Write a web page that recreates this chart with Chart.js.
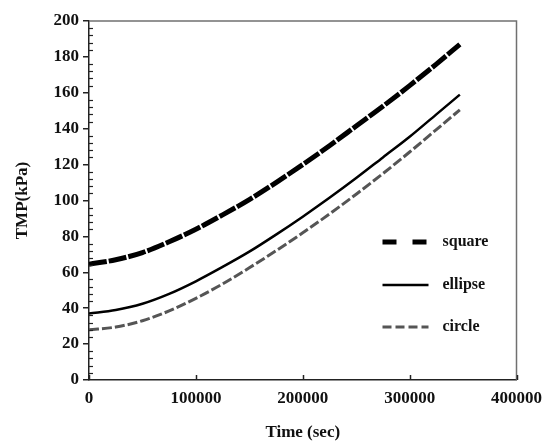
<!DOCTYPE html>
<html>
<head>
<meta charset="utf-8">
<script src="https://cdn.jsdelivr.net/npm/chart.js@4.4.1/dist/chart.umd.min.js"></script>
<style>
  html, body { margin: 0; padding: 0; background: #fff; }
  #wrap { width: 542px; height: 444px; }
</style>
</head>
<body>
<div id="wrap"><canvas id="tmpChart" width="542" height="444"></canvas></div>
<script>
// Time (sec) sampled along the curves
const timeSec = [0, 25000, 50000, 75000, 100000, 125000, 150000, 175000, 200000, 225000, 250000, 275000, 300000, 325000, 347000];
// TMP (kPa) for each module shape
const squareTmp  = [64.5, 67, 71, 77, 84, 92, 100.5, 110, 120, 130.5, 141.5, 152.5, 164, 176, 187];
const ellipseTmp = [37, 39, 42.5, 48, 55, 63, 71.5, 81, 91, 101.5, 112.5, 124, 135.5, 148, 159];
const circleTmp  = [28, 29.5, 33, 38.5, 45.5, 53.5, 62.5, 72, 82, 92.5, 103.5, 115, 127, 139.5, 150.5];
const seriesNames = ["square", "ellipse", "circle"];
// axis ticks
const xTicks = [0, 100000, 200000, 300000, 400000];
const yTicks = [0, 20, 40, 60, 80, 100, 120, 140, 160, 180, 200];

const FONT = "'Liberation Serif', 'Times New Roman', serif";

function toPoints(values) {
    return timeSec.map((t, i) => ({ x: t, y: values[i] }));
}

// ✅ frame, inside ticks and in-plot legend
const framePlugin = {
    id: "frame",
    afterDraw(chart) {
        const { ctx, chartArea: a, scales: { x, y } } = chart;
        ctx.save();

        // top + right border (grey)
        ctx.strokeStyle = "#707070";
        ctx.lineWidth = 1.5;
        ctx.beginPath();
        ctx.moveTo(a.left, a.top);
        ctx.lineTo(a.right, a.top);
        ctx.lineTo(a.right, a.bottom);
        ctx.stroke();

        // x major ticks pointing up into the plot
        ctx.strokeStyle = "#222";
        ctx.lineWidth = 1.5;
        xTicks.forEach(v => {
            const px = Math.round(x.getPixelForValue(v)) + 0.5;
            ctx.beginPath();
            ctx.moveTo(px, a.bottom);
            ctx.lineTo(px, a.bottom - 5);
            ctx.stroke();
        });

        // y minor ticks on the inside, every 4 kPa
        ctx.lineWidth = 1.2;
        for (let v = 4; v < 200; v += 4) {
            if (v % 20 === 0) continue;
            const py = Math.round(y.getPixelForValue(v)) + 0.5;
            ctx.beginPath();
            ctx.moveTo(a.left, py);
            ctx.lineTo(a.left + 4, py);
            ctx.stroke();
        }

        // legend inside the plot area
        const lx0 = a.right - 134, lx1 = a.right - 88, tx = a.right - 74;
        const rowY = [a.top + 221, a.top + 264, a.top + 306];
        chart.data.datasets.forEach((ds, i) => {
            const yy = rowY[i];
            ctx.strokeStyle = ds.borderColor;
            ctx.lineWidth = ds.borderWidth;
            ctx.setLineDash(ds.legendDash || []);
            ctx.lineCap = "butt";
            ctx.beginPath();
            ctx.moveTo(lx0, yy);
            ctx.lineTo(lx1, yy);
            ctx.stroke();
            ctx.setLineDash([]);
            ctx.fillStyle = "#111";
            ctx.font = "bold 16px " + FONT;
            ctx.textBaseline = "middle";
            ctx.textAlign = "left";
            ctx.fillText(ds.label, tx, yy);
        });
        ctx.restore();
    }
};

const ctx = document.getElementById("tmpChart").getContext("2d");

new Chart(ctx, {
    type: "line",
    data: {
        datasets: [
            {
                label: seriesNames[0],
                data: toPoints(squareTmp),
                borderColor: "#000",
                borderWidth: 5,
                borderDash: [18, 2],
                legendDash: [14, 16],
                pointRadius: 0,
                cubicInterpolationMode: "monotone"
            },
            {
                label: seriesNames[1],
                data: toPoints(ellipseTmp),
                borderColor: "#000",
                borderWidth: 2.5,
                borderDash: [],
                legendDash: [],
                pointRadius: 0,
                cubicInterpolationMode: "monotone"
            },
            {
                label: seriesNames[2],
                data: toPoints(circleTmp),
                borderColor: "#555",
                borderWidth: 3,
                borderDash: [10, 3],
                legendDash: [9, 4],
                pointRadius: 0,
                cubicInterpolationMode: "monotone"
            }
        ]
    },
    options: {
        responsive: false,
        animation: false,
        layout: { padding: { left: 0, right: 20, top: 21, bottom: 0 } },
        plugins: {
            legend: { display: false },
            tooltip: { enabled: false }
        },
        scales: {
            x: {
                type: "linear",
                min: 0,
                max: 400000,
                afterBuildTicks: s => { s.ticks = xTicks.map(v => ({ value: v })); },
                afterFit: s => { s.height = 64; },
                grid: { display: false },
                border: { display: true, color: "#222", width: 1.5 },
                ticks: {
                    color: "#111",
                    padding: 0,
                    maxRotation: 0,
                    font: { family: FONT, size: 17, weight: "bold" },
                    callback: v => String(v)
                },
                title: {
                    display: true,
                    text: "Time (sec)",
                    color: "#111",
                    padding: { top: 4, bottom: 1 },
                    font: { family: FONT, size: 17, weight: "bold" }
                }
            },
            y: {
                min: 0,
                max: 200,
                afterBuildTicks: s => { s.ticks = yTicks.map(v => ({ value: v })); },
                afterFit: s => { s.width = 89; },
                grid: {
                    display: true,
                    drawOnChartArea: false,
                    drawTicks: true,
                    tickLength: 6,
                    color: "#222",
                    lineWidth: 1.5
                },
                border: { display: true, color: "#222", width: 1.5 },
                ticks: {
                    color: "#111",
                    padding: 4,
                    font: { family: FONT, size: 17, weight: "bold" }
                },
                title: {
                    display: true,
                    text: "TMP(kPa)",
                    color: "#111",
                    padding: { top: 12, bottom: 0 },
                    font: { family: FONT, size: 17, weight: "bold" }
                }
            }
        }
    },
    plugins: [framePlugin]
});
</script>
</body>
</html>
